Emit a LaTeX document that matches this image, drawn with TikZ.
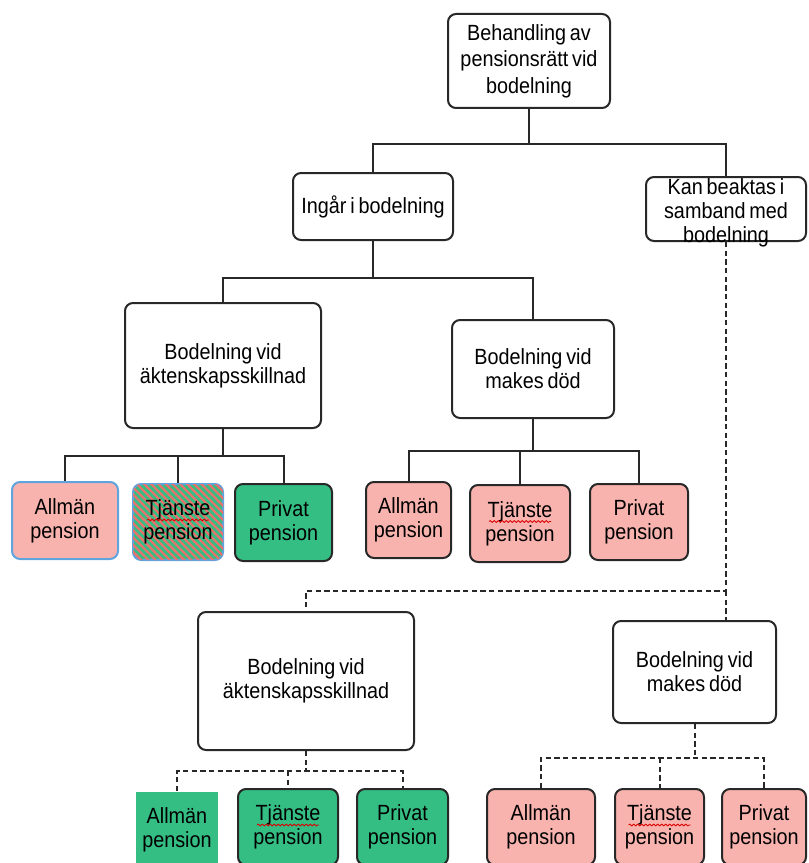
\documentclass[tikz,border=0pt]{standalone}
\usepackage{fontspec}
\setmainfont[FakeStretch=0.9,WordSpace=0.7]{Liberation Sans}
\usepackage{tikz}
\usetikzlibrary{patterns.meta,decorations.pathmorphing}

\definecolor{pinkfill}{RGB}{249,179,174}
\definecolor{greenfill}{RGB}{52,190,132}
\definecolor{blueedge}{RGB}{96,164,222}
\definecolor{stripe}{RGB}{238,112,108}
\definecolor{edge}{RGB}{40,40,40}

\tikzset{
  boxsize/.style 2 args={minimum width=#1*0.75pt, minimum height=#2*0.75pt},
  box/.style={draw=edge, line width=1.5pt, rounded corners=6pt, align=center,
    inner sep=0pt, font=\fontsize{16.5}{18}\selectfont},
  pinkbox/.style={box, fill=pinkfill},
  greenbox/.style={box, fill=greenfill},
  striped/.style={postaction={pattern={Lines[angle=-45,distance=3.8pt,line width=1.6pt]},
    pattern color=stripe}},
  conn/.style={line width=1.5pt, draw=edge},
  dconn/.style={conn, dash pattern=on 4pt off 2.5pt},
  squiggle/.style={draw=red!85!black, line width=0.6pt,
    decorate, decoration={snake, amplitude=0.7pt, segment length=3pt}}
}

\begin{document}
\begin{tikzpicture}[x=0.75pt,y=0.75pt,yscale=-1,xscale=1]
\useasboundingbox (0,0) rectangle (808,863);
\clip (0,0) rectangle (808,863);

% top levels
\node[box, boxsize={162}{94}, font=\fontsize{16.5}{20}\selectfont] (top) at (529,61) {Behandling av\\pensionsrätt vid\\bodelning};
\node[box, boxsize={160}{67}] (ingar) at (373,206.5) {Ingår i bodelning};
\node[box, boxsize={160}{64}] (kan) at (726,209) {};
\node[align=center, inner sep=0pt, font=\fontsize{16.5}{18}\selectfont] (kan text) at (726,212.5) {Kan beaktas i\\samband med\\bodelning};

% bodelning boxes
\node[box, boxsize={196}{125}] (bod1) at (223,365.5) {Bodelning vid\\äktenskapsskillnad};
\node[box, boxsize={162}{98}] (bod2) at (533,369) {Bodelning vid\\makes död};
\node[box, boxsize={216}{138}] (bod3) at (306,681) {Bodelning vid\\äktenskapsskillnad};
\node[box, boxsize={163}{102}] (bod4) at (694.5,672) {Bodelning vid\\makes död};

% pension boxes, first row
\node[pinkbox, draw=blueedge, boxsize={106}{77}] (a1) at (65,520.5) {Allmän\\pension};
\node[greenbox, draw=blueedge, striped, boxsize={90}{76}] (t1) at (178,522) {Tjänste\\pension};
\node[greenbox, boxsize={97}{77}] (p1) at (283.5,522.5) {Privat\\pension};
\node[pinkbox, boxsize={85}{76}] (a2) at (408.5,520) {Allmän\\pension};
\node[pinkbox, boxsize={100}{77}] (t2) at (520,523.5) {Tjänste\\pension};
\node[pinkbox, boxsize={98}{76}] (p2) at (639,522) {Privat\\pension};

% pension boxes, second row
\node[greenbox, draw=none, sharp corners, boxsize={82}{76}] (a3) at (177,830) {Allmän\\pension};
\node[greenbox, boxsize={100}{76}] (t3) at (288,827) {Tjänste\\pension};
\node[greenbox, boxsize={91}{76}] (p3) at (402.5,827) {Privat\\pension};
\node[pinkbox, boxsize={108}{76}] (a4) at (541,827) {Allmän\\pension};
\node[pinkbox, boxsize={89}{76}] (t4) at (659.5,827) {Tjänste\\pension};
\node[pinkbox, boxsize={84}{76}] (p4) at (764,827) {Privat\\pension};

% spelling marks
\foreach \n in {t1,t2,t3,t4}
  \draw[squiggle] (\n.center) ++(-31,-2) -- ++(62,0);

% solid connectors
\draw[conn] (top.south) -- ++(0,35) coordinate (s1);
\draw[conn] (ingar.north) |- (s1) -| (kan.north);
\draw[conn] (ingar.south) -- ++(0,37) coordinate (s2);
\draw[conn] (bod1.north) |- (s2) -| (bod2.north);
\draw[conn] (bod1.south) -- ++(0,27) coordinate (s3);
\draw[conn] (a1.north) |- (s3) -| (p1.north);
\draw[conn] (s3 -| t1.north) -- (t1.north);
\draw[conn] (bod2.south) -- ++(0,32) coordinate (s4);
\draw[conn] (a2.north) |- (s4) -| (p2.north);
\draw[conn] (s4 -| t2.north) -- (t2.north);

% dashed connectors
\draw[dconn] (kan.south) -- ++(0,349) coordinate (s5) -| (bod3.north);
\draw[dconn] (s5) -- (s5 |- bod4.north);
\draw[dconn] (bod3.south) -- ++(0,20) coordinate (s6);
\draw[dconn] (a3.north) |- (s6) -| (p3.north);
\draw[dconn] (s6 -| t3.north) -- (t3.north);
\draw[dconn] (bod4.south) -- ++(0,34) coordinate (s7);
\draw[dconn] (a4.north) |- (s7) -| (p4.north);
\draw[dconn] (s7 -| t4.north) -- (t4.north);

\end{tikzpicture}
\end{document}
